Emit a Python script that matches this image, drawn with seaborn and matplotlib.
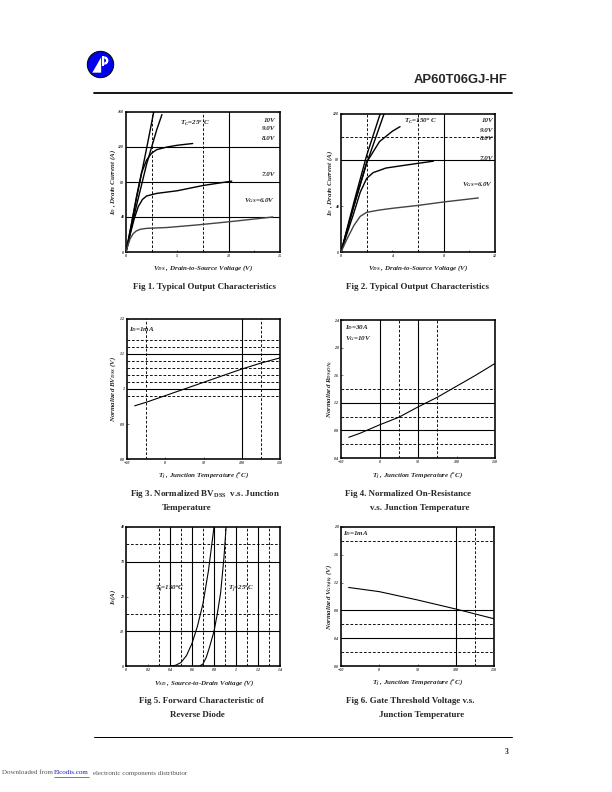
import matplotlib
matplotlib.use("Agg")
import matplotlib.pyplot as plt
import seaborn as sns
import numpy as np
import pandas as pd
from matplotlib.patches import Circle, Polygon, Wedge, Rectangle

sns.set_style("ticks")
plt.rcParams['font.family'] = ['Liberation Serif', 'DejaVu Serif']
plt.rcParams['mathtext.fontset'] = 'custom'
plt.rcParams['mathtext.rm'] = 'Liberation Serif:bold:italic'
plt.rcParams['mathtext.it'] = 'Liberation Serif:bold:italic'
plt.rcParams['mathtext.bf'] = 'Liberation Serif:bold'

# ---------------- data ----------------
# Fig 1 (Tc = 25C) output characteristics: VDS (V), ID (A)
f1_vgs = ["10V", "9.0V", "8.0V", "7.0V", "6.0V"]
f1_x_10 = [0, 1.0, 2.0, 2.7]
f1_y_10 = [0, 60, 118, 160]
f1_x_9 = [0, 1.0, 2.0, 3.0, 3.5]
f1_y_9 = [0, 52, 100, 140, 157]
f1_x_8 = [0, 0.5, 1.0, 1.5, 2.0, 2.5, 3.0, 4.0, 5.0, 6.5]
f1_y_8 = [0, 30, 62, 90, 105, 113, 117, 120, 122, 124]
f1_x_7 = [0, 0.4, 0.8, 1.2, 1.6, 2.0, 3.0, 5.0, 7.5, 10.3]
f1_y_7 = [0, 20, 38, 52, 60, 64, 67, 70, 76, 81]
f1_x_6 = [0, 0.2, 0.4, 0.7, 1.0, 1.4, 2.0, 4.0, 7.0, 10.0, 14.3]
f1_y_6 = [0, 8, 15, 21, 24, 26, 27, 28, 31, 34.5, 40]

# Fig 2 (Tc = 150C)
f2_x_10 = [0, 1.0, 2.0, 3.05]
f2_y_10 = [0, 43, 84, 120]
f2_x_9 = [0, 1.0, 2.0, 3.35]
f2_y_9 = [0, 40, 77, 120]
f2_x_8 = [0, 1.0, 2.0, 3.0, 4.0, 4.6]
f2_y_8 = [0, 40, 78, 96, 105, 109]
f2_x_7 = [0, 0.5, 1.0, 1.5, 2.0, 2.5, 3.5, 5.0, 7.2]
f2_y_7 = [0, 17, 34, 52, 64, 69, 73, 75.5, 79]
f2_x_6 = [0, 0.5, 1.0, 1.5, 2.0, 3.0, 4.0, 6.0, 8.0, 10.7]
f2_y_6 = [0, 12, 23, 31, 34.5, 36.5, 38, 40.5, 43.5, 47]

# Fig 3 normalized BVdss vs Tj
f3_t = [-40, -25, 0, 25, 50, 75, 100, 125, 150]
f3_bv = [0.952, 0.962, 0.981, 1.0, 1.019, 1.038, 1.057, 1.074, 1.089]

# Fig 4 normalized RDS(on) vs Tj
f4_t = [-40, -25, 0, 25, 50, 75, 100, 125, 150]
f4_r = [0.70, 0.76, 0.88, 0.99, 1.14, 1.28, 1.44, 1.60, 1.77]

# Fig 5 reverse diode forward characteristic
f5_v_150 = [0.40, 0.45, 0.50, 0.55, 0.60, 0.65, 0.70, 0.75, 0.80]
f5_i_150 = [0, 0.2, 1.0, 3.0, 6.5, 11.5, 18, 27.5, 40]
f5_v_25 = [0.67, 0.70, 0.73, 0.76, 0.80, 0.83, 0.86, 0.89, 0.91]
f5_i_25 = [0, 0.6, 2.5, 5.5, 10, 15, 21, 31, 40]

# Fig 6 normalized Vgs(th) vs Tj
f6_t = [-40, 0, 25, 50, 75, 100, 125, 150]
f6_v = [1.13, 1.07, 1.01, 0.95, 0.885, 0.82, 0.75, 0.68]

# tick labels
f1_xticks = [0, 5, 10, 15]; f1_yticks = [0, 40, 80, 120, 160]
f2_xticks = [0, 4, 8, 12]; f2_yticks = [0, 40, 80, 120]
t_ticks = [-50, 0, 50, 100, 150]
f3_yticks = [0.8, 0.9, 1.0, 1.1, 1.2]; f3_ylabels = ["0.8", "0.9", "1", "1.1", "1.2"]
f4_yticks = [0.4, 0.8, 1.2, 1.6, 2.0, 2.4]
f5_xticks = [0, 0.2, 0.4, 0.6, 0.8, 1.0, 1.2, 1.4]; f5_xlabels = ["0", "0.2", "0.4", "0.6", "0.8", "1", "1.2", "1.4"]
f5_yticks = [0, 10, 20, 30, 40]
f6_yticks = [0.0, 0.4, 0.8, 1.2, 1.6, 2.0]

# ---------------- figure ----------------
W, H = 612, 792
fig = plt.figure(figsize=(8.5, 11), dpi=72)

def rect(x0, x1, yt, yb):
    return [x0 / W, 1 - yb / H, (x1 - x0) / W, (yb - yt) / H]

def P(x, y):
    return (x / W, 1 - y / H)

lab_kw = dict(fontsize=7, fontweight='bold', fontstyle='italic')

def style_axes(ax, xlim, ylim, xticks, yticks, xlabels=None, ylabels=None):
    ax.set_xlim(*xlim); ax.set_ylim(*ylim)
    ax.set_xticks(xticks); ax.set_yticks(yticks)
    if xlabels is not None:
        ax.set_xticklabels(xlabels)
    if ylabels is not None:
        ax.set_yticklabels(ylabels)
    for s in ax.spines.values():
        s.set_linewidth(1.6); s.set_color('black'); s.set_visible(True)
    ax.tick_params(direction='in', length=2, width=0.6, labelsize=4, pad=2)
    ax.tick_params(which='minor', direction='in', length=2, width=0.6)
    for t in ax.get_xticklabels() + ax.get_yticklabels():
        t.set_fontweight('bold'); t.set_fontstyle('italic')
    ax.set_xlabel(''); ax.set_ylabel('')

def grid(ax, hs=(), hd=(), vs=(), vd=()):
    for v in hs: ax.axhline(v, color='black', lw=1.1, zorder=1)
    for v in hd: ax.axhline(v, color='black', lw=0.9, ls=(0, (3, 2)), zorder=1)
    for v in vs: ax.axvline(v, color='black', lw=1.1, zorder=1)
    for v in vd: ax.axvline(v, color='black', lw=0.9, ls=(0, (3, 2)), zorder=1)

def curve(ax, x, y, lw=1.4, color='black'):
    sns.lineplot(x=x, y=y, ax=ax, color=color, lw=lw, sort=False, estimator=None, zorder=3)

# ---- Fig 1 ----
ax1 = fig.add_axes(rect(126, 280, 112, 252))
grid(ax1, hs=[40, 80, 120], vs=[10], vd=[2.5, 7.5])
for xs, ys, c in [(f1_x_10, f1_y_10, 'black'), (f1_x_9, f1_y_9, 'black'), (f1_x_8, f1_y_8, 'black'),
                  (f1_x_7, f1_y_7, 'black'), (f1_x_6, f1_y_6, '#444444')]:
    curve(ax1, xs, ys, color=c)
style_axes(ax1, (0, 15), (0, 160), f1_xticks, f1_yticks)
ax1.set_xticks([2.5, 7.5, 12.5], minor=True)
fig.text(*P(180, 123), r"$T_{C}$=25$^{o}$ C", ha='left', va='center', **lab_kw)
for lbl, yy in [("10V", 120), ("9.0V", 129), ("8.0V", 139), ("7.0V", 175)]:
    fig.text(*P(275, yy), lbl, ha='right', va='center', **lab_kw)
fig.text(*P(275, 201), r"$V_{GS}$=6.0V", ha='right', va='center', **lab_kw)
fig.text(*P(203, 268), r"$V_{DS}$ , Drain-to-Source Voltage (V)", ha='center', va='center', **lab_kw)
fig.text(*P(113, 182), r"$I_{D}$ , Drain Current (A)", ha='center', va='center', rotation=90, **lab_kw)

# ---- Fig 2 ----
ax2 = fig.add_axes(rect(341, 495, 114, 252))
grid(ax2, hs=[80], hd=[100], vs=[8], vd=[2, 6])
for xs, ys, c in [(f2_x_10, f2_y_10, 'black'), (f2_x_9, f2_y_9, 'black'), (f2_x_8, f2_y_8, 'black'),
                  (f2_x_7, f2_y_7, 'black'), (f2_x_6, f2_y_6, '#444444')]:
    curve(ax2, xs, ys, color=c)
style_axes(ax2, (0, 12), (0, 120), f2_xticks, f2_yticks)
ax2.set_xticks([2, 6, 10], minor=True)
fig.text(*P(404, 121), r"$T_{C}$=150$^{o}$ C", ha='left', va='center', **lab_kw)
for lbl, yy in [("10V", 121), ("9.0V", 131), ("8.0V", 139), ("7.0V", 158)]:
    fig.text(*P(493, yy), lbl, ha='right', va='center', **lab_kw)
fig.text(*P(493, 185), r"$V_{GS}$=6.0V", ha='right', va='center', **lab_kw)
fig.text(*P(418, 268), r"$V_{DS}$ , Drain-to-Source Voltage (V)", ha='center', va='center', **lab_kw)
fig.text(*P(330, 183), r"$I_{D}$ , Drain Current (A)", ha='center', va='center', rotation=90, **lab_kw)

# ---- Fig 3 ----
ax3 = fig.add_axes(rect(127, 280, 319, 459))
grid(ax3, hs=[1.0, 1.1], hd=[0.98, 1.02, 1.04, 1.06, 1.08, 1.12, 1.14], vs=[100], vd=[-25, 125])
curve(ax3, f3_t, f3_bv, lw=1.1)
style_axes(ax3, (-50, 150), (0.8, 1.2), t_ticks, f3_yticks, ylabels=f3_ylabels)
fig.text(*P(129, 330), r"$I_{D}$=1mA", ha='left', va='center', **lab_kw)
fig.text(*P(204, 476), r"$T_{j}$ , Junction Temperature ($^{o}$C)", ha='center', va='center', **lab_kw)
fig.text(*P(113, 389), r"Normalized $BV_{DSS}$ (V)", ha='center', va='center', rotation=90, **lab_kw)

# ---- Fig 4 ----
ax4 = fig.add_axes(rect(341, 495, 320, 458))
grid(ax4, hs=[0.8, 1.2], hd=[0.6, 1.0, 1.4], vs=[0, 50], vd=[25, 75])
curve(ax4, f4_t, f4_r, lw=1.1)
style_axes(ax4, (-50, 150), (0.4, 2.4), t_ticks, f4_yticks)
fig.text(*P(345, 328), r"$I_{D}$=30A", ha='left', va='center', **lab_kw)
fig.text(*P(345, 339), r"$V_{G}$=10V", ha='left', va='center', **lab_kw)
fig.text(*P(418, 476), r"$T_{j}$ , Junction Temperature ($^{o}$C)", ha='center', va='center', **lab_kw)
fig.text(*P(330, 389), r"Normalized $R_{DS(ON)}$", ha='center', va='center', rotation=90, **lab_kw)

# ---- Fig 5 ----
ax5 = fig.add_axes(rect(126, 280, 527, 666))
grid(ax5, hs=[10, 30], hd=[15, 35], vs=[0.4, 0.6, 0.8, 1.0, 1.2], vd=[0.3, 0.5, 0.7, 0.9, 1.1, 1.3])
curve(ax5, f5_v_150, f5_i_150, lw=1.1)
curve(ax5, f5_v_25, f5_i_25, lw=1.1)
style_axes(ax5, (0, 1.4), (0, 40), f5_xticks, f5_yticks, xlabels=f5_xlabels)
fig.text(*P(155, 589), r"$T_{j}$=150$^{o}$C", ha='left', va='center', **lab_kw)
fig.text(*P(228, 589), r"$T_{j}$=25$^{o}$C", ha='left', va='center', **lab_kw)
fig.text(*P(204, 683), r"$V_{SD}$ , Source-to-Drain Voltage (V)", ha='center', va='center', **lab_kw)
fig.text(*P(113, 597), r"$I_{S}$(A)", ha='center', va='center', rotation=90, **lab_kw)

# ---- Fig 6 ----
ax6 = fig.add_axes(rect(341, 494, 527, 666))
grid(ax6, hs=[0.4, 0.8], hd=[0.2, 0.6, 1.8], vs=[100], vd=[125])
curve(ax6, f6_t, f6_v, lw=1.1)
style_axes(ax6, (-50, 150), (0.0, 2.0), t_ticks, f6_yticks)
fig.text(*P(343, 534), r"$I_{D}$=1mA", ha='left', va='center', **lab_kw)
fig.text(*P(418, 683), r"$T_{j}$ , Junction Temperature ($^{o}$C)", ha='center', va='center', **lab_kw)
fig.text(*P(330, 597), r"Normalized $V_{GS(th)}$ (V)", ha='center', va='center', rotation=90, **lab_kw)

# ---- captions ----
cap = dict(fontsize=9, fontweight='bold', ha='center', va='center')
fig.text(*P(205, 287), "Fig 1. Typical Output Characteristics", **cap)
fig.text(*P(417, 287), "Fig 2. Typical Output Characteristics", **cap)
fig.text(*P(205, 494), r"Fig 3. Normalized BV$_{\mathbf{DSS}}$  v.s. Junction", **cap)
fig.text(*P(187, 508), "Temperature", **cap)
fig.text(*P(408, 494), "Fig 4. Normalized On-Resistance", **cap)
fig.text(*P(420, 508), "v.s. Junction Temperature", **cap)
fig.text(*P(201, 701), "Fig 5. Forward Characteristic of", **cap)
fig.text(*P(197, 715), "Reverse Diode", **cap)
fig.text(*P(410, 701), "Fig 6. Gate Threshold Voltage v.s.", **cap)
fig.text(*P(422, 715), "Junction Temperature", **cap)

# ---- header / footer ----
fig.text(*P(508, 80), "AP60T06GJ-HF", fontsize=13, fontweight='bold', family='Liberation Sans',
         ha='right', va='center')
fig.add_artist(plt.Line2D([94 / W, 512 / W], [1 - 93 / H, 1 - 93 / H], color='black', lw=1.8))
fig.add_artist(plt.Line2D([94 / W, 512 / W], [1 - 737 / H, 1 - 737 / H], color='black', lw=1.0))
fig.text(*P(509, 752), "3", fontsize=7.5, fontweight='bold', ha='right', va='center')
fig.text(*P(2, 773), "Downloaded from ", fontsize=7, color='#555555', ha='left', va='center')
fig.text(*P(54, 773), "Elcodis.com", fontsize=7, color='#1a1acc', ha='left', va='center')
fig.add_artist(plt.Line2D([54 / W, 89 / W], [1 - 777 / H, 1 - 777 / H], color='#1a1acc', lw=0.6))
fig.text(*P(93, 773), "electronic components distributor", fontsize=7, color='#555555', ha='left', va='center')

# logo
axl = fig.add_axes(rect(86, 115, 50, 79))
axl.set_xlim(-1.1, 1.1); axl.set_ylim(-1.1, 1.1); axl.set_aspect('equal'); axl.axis('off')
axl.add_patch(Circle((0, 0), 1.0, facecolor='#0000ee', edgecolor='black', lw=1.0))
axl.add_patch(Polygon([(-0.62, -0.62), (0.05, 0.55), (0.05, -0.62)], closed=True, facecolor='white', edgecolor='none'))
axl.add_patch(Rectangle((0.12, -0.1), 0.16, 0.72, facecolor='white', edgecolor='none'))
axl.add_patch(Wedge((0.28, 0.3), 0.32, -90, 90, facecolor='white', edgecolor='none'))
axl.add_patch(Wedge((0.28, 0.3), 0.14, -90, 90, facecolor='#0000ee', edgecolor='none'))

fig.savefig("out.png", dpi=72)
